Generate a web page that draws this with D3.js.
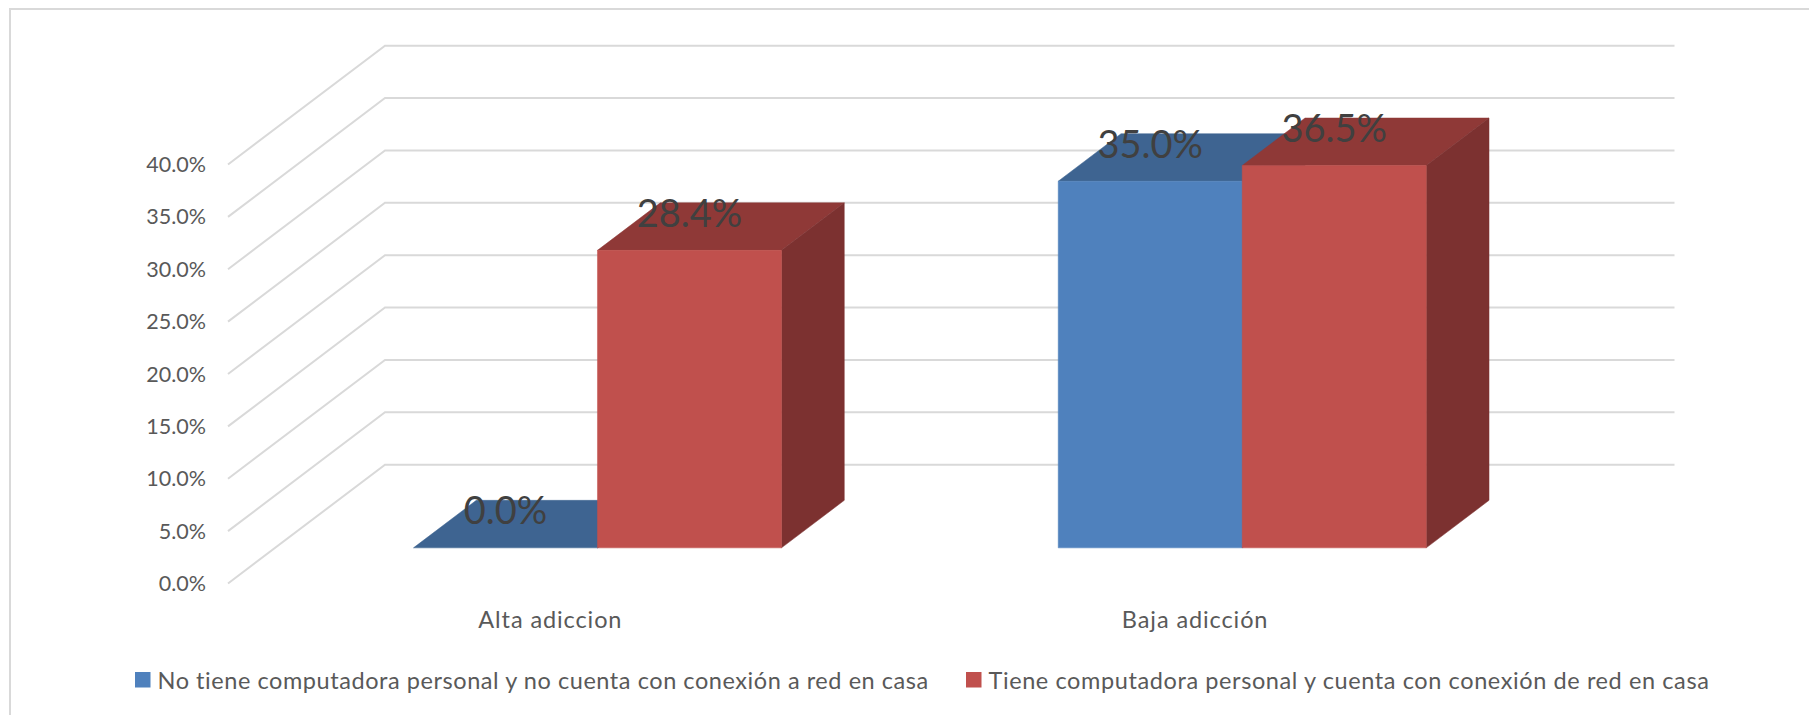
<!DOCTYPE html>
<html>
<head>
<meta charset="utf-8">
<script src="https://cdn.jsdelivr.net/npm/d3@7/dist/d3.min.js"></script>
<style>
html,body{margin:0;padding:0;background:#fff;overflow:hidden}
svg{display:block}
text{font-family:Lato,Carlito,"Open Sans",sans-serif}
</style>
</head>
<body>
<svg id="chart" width="1809" height="715"></svg>
<script>
const categories = ["Alta adiccion", "Baja adicción"];
const seriesNames = ["No tiene computadora personal y no cuenta con conexión a red en casa",
                     "Tiene computadora personal y cuenta con conexión de red en casa"];
const seriesNoComputer = [0.0, 35.0];
const seriesComputer = [28.4, 36.5];
const tickValues = [0, 5, 10, 15, 20, 25, 30, 35, 40];
const frontColors = ["#4F81BD", "#C0504D"];
const topColors = ["#3E6491", "#8F3937"];
const sideColors = ["#3E6491", "#7C3130"];

const W = 1809, H = 715;
const svg = d3.select("#chart");
const grid = "#D9D9D9", labelColor = "#595959";

// front plane scales + depth projection of the 3D box
const x = d3.scaleBand().domain(categories).range([228, 1517.5]);
const y = d3.scaleLinear().domain([0, 40]).range([583.5, 164.5]);
const depthX = d3.scaleLinear().domain([0, 1]).range([0, 157]);
const depthY = d3.scaleLinear().domain([0, 1]).range([0, -118.8]);
const barDepth = [0.3, 0.7];
const barHalf = 184;
const inner = d3.scaleBand().domain([0, 1]).range([-barHalf, barHalf]);
const project = (px, v, t) => [px + depthX(t), y(v) + depthY(t)];
const line = d3.line();

// frame
svg.append("path").attr("d", line([[W, 9], [10, 9], [10, H]]))
  .attr("fill", "none").attr("stroke", "#D9D9D9").attr("stroke-width", 2);

// wall gridlines
svg.append("g").selectAll("path").data(tickValues).join("path")
  .attr("d", v => line([project(x.range()[0], v, 0), project(x.range()[0], v, 1), project(x.range()[1], v, 1)]))
  .attr("fill", "none").attr("stroke", grid).attr("stroke-width", 2);

// value axis labels
svg.append("g").selectAll("text").data(tickValues).join("text")
  .attr("x", 206).attr("y", v => y(v)).attr("dy", "0.35em")
  .attr("text-anchor", "end").attr("font-size", 21.5).attr("fill", labelColor)
  .text(v => d3.format(".1f")(v) + "%");

// bars
const bars = [];
[seriesNoComputer, seriesComputer].forEach((vals, s) => {
  vals.forEach((v, c) => bars.push({s, c, v}));
});
const gBars = svg.append("g");
bars.forEach(d => {
  const x0 = x(categories[d.c]) + x.bandwidth() / 2 + inner(d.s);
  const x1 = x0 + inner.bandwidth();
  const [t0, t1] = barDepth;
  const g = gBars.append("g");
  const poly = (pts, fill) => g.append("path").attr("d", line(pts) + "Z").attr("fill", fill).attr("stroke", fill).attr("stroke-width", 0.5);
  poly([project(x0, d.v, t0), project(x1, d.v, t0), project(x1, d.v, t1), project(x0, d.v, t1)], topColors[d.s]);
  poly([project(x1, 0, t0), project(x1, d.v, t0), project(x1, d.v, t1), project(x1, 0, t1)], sideColors[d.s]);
  if (d.v > 0) poly([project(x0, 0, t0), project(x1, 0, t0), project(x1, d.v, t0), project(x0, d.v, t0)], frontColors[d.s]);
});

// data labels
svg.append("g").selectAll("text").data(bars).join("text")
  .attr("x", d => project(x(categories[d.c]) + x.bandwidth() / 2 + inner(d.s) + inner.bandwidth() / 2, d.v, barDepth[0])[0])
  .attr("y", d => project(0, d.v, barDepth[0])[1] - 37)
  .attr("dy", "0.35em").attr("text-anchor", "middle")
  .attr("font-size", 38).attr("fill", "#404040")
  .text(d => d3.format(".1f")(d.v) + "%");

// category labels
svg.append("g").selectAll("text").data(categories).join("text")
  .attr("x", d => x(d) + x.bandwidth() / 2).attr("y", 620).attr("dy", "0.35em")
  .attr("text-anchor", "middle").attr("font-size", 23.5).attr("letter-spacing", 0.9).attr("fill", labelColor)
  .text(d => d);

// legend
const legendX = [135, 966];
const legendSpacing = [0.56, 0.6];
const legend = svg.append("g").selectAll("g").data(seriesNames).join("g")
  .attr("transform", (d, i) => `translate(${legendX[i]},672)`);
legend.append("rect").attr("width", 15.5).attr("height", 15.5).attr("fill", (d, i) => frontColors[i]);
legend.append("text").attr("x", 22.5).attr("y", 9).attr("dy", "0.35em")
  .attr("font-size", 23.5).attr("letter-spacing", (d, i) => legendSpacing[i]).attr("fill", labelColor).text(d => d);
</script>
</body>
</html>
